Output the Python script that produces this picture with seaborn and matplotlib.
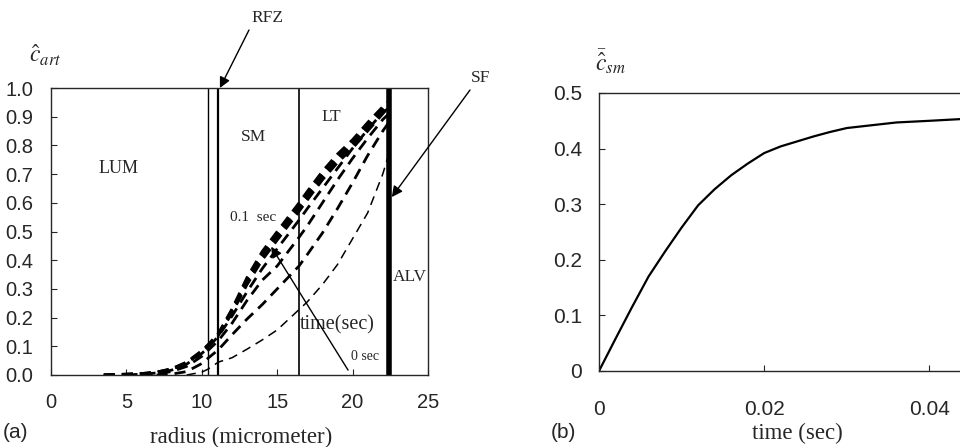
import numpy as np
import pandas as pd
import matplotlib
matplotlib.use("Agg")
import matplotlib.pyplot as plt
import seaborn as sns

# radial positions (micrometer) where the profiles were read
radius = [3.5, 5, 6, 7, 8, 9, 10, 10.4, 11.1, 12, 13, 14, 15, 16.45, 17, 18, 19, 20, 21, 22, 22.4]
nan = np.nan

# concentration profiles from 0 sec (first) towards 0.1 sec (last)
prof_0 = [nan, nan, nan, nan, nan, 0.0, 0.01, 0.02, 0.045, 0.06, 0.09, 0.122, 0.157, 0.228, 0.255, 0.315, 0.385, 0.475, 0.565, 0.70, 0.77]
prof_1 = [nan, nan, nan, 0.0, 0.003, 0.012, 0.04, 0.058, 0.088, 0.14, 0.195, 0.245, 0.30, 0.38, 0.42, 0.495, 0.58, 0.67, 0.765, 0.85, 0.88]
prof_2 = [nan, nan, 0.0, 0.004, 0.012, 0.03, 0.065, 0.085, 0.12, 0.18, 0.26, 0.33, 0.38, 0.48, 0.52, 0.60, 0.68, 0.755, 0.825, 0.89, 0.91]
prof_3 = [nan, 0.0, 0.003, 0.007, 0.017, 0.038, 0.075, 0.095, 0.135, 0.205, 0.29, 0.37, 0.44, 0.54, 0.58, 0.65, 0.72, 0.79, 0.855, 0.915, 0.93]
prof_4 = [0.0, 0.002, 0.004, 0.008, 0.019, 0.041, 0.079, 0.098, 0.138, 0.215, 0.315, 0.40, 0.47, 0.57, 0.61, 0.68, 0.74, 0.79, 0.85, 0.91, 0.935]
prof_5 = [0.0, 0.002, 0.004, 0.009, 0.02, 0.043, 0.081, 0.101, 0.141, 0.221, 0.325, 0.41, 0.48, 0.58, 0.62, 0.69, 0.75, 0.80, 0.86, 0.92, 0.943]
prof_6 = [0.0, 0.003, 0.005, 0.01, 0.021, 0.044, 0.083, 0.103, 0.143, 0.226, 0.333, 0.42, 0.49, 0.59, 0.63, 0.70, 0.76, 0.81, 0.87, 0.928, 0.95]
prof_7 = [0.0, 0.003, 0.005, 0.01, 0.022, 0.045, 0.085, 0.105, 0.145, 0.23, 0.34, 0.43, 0.50, 0.60, 0.64, 0.71, 0.77, 0.82, 0.88, 0.935, 0.955]
profiles = [prof_0, prof_1, prof_2, prof_3, prof_4, prof_5, prof_6, prof_7]

# layer boundaries (micrometer)
boundaries = [10.4, 11.1, 16.45, 22.4]
boundary_widths = [1.0, 1.6, 1.2, 4.0]

# mean smooth muscle concentration vs time
time_s = [0, 0.002, 0.004, 0.006, 0.008, 0.010, 0.012, 0.014, 0.016, 0.018, 0.020,
          0.022, 0.024, 0.026, 0.028, 0.030, 0.033, 0.036, 0.040, 0.0437]
c_sm = [0, 0.058, 0.115, 0.170, 0.215, 0.258, 0.298, 0.327, 0.352, 0.373, 0.392,
        0.404, 0.413, 0.422, 0.430, 0.437, 0.442, 0.447, 0.450, 0.453]

sns.set_style("ticks", {"xtick.direction": "in", "ytick.direction": "in"})
plt.rcParams["font.family"] = ["Liberation Sans", "DejaVu Sans"]
plt.rcParams["mathtext.fontset"] = "stix"
serif = ["Liberation Serif", "DejaVu Serif"]

fig = plt.figure(figsize=(9.6, 4.47), dpi=100)
W, H = 960, 447
ax1 = fig.add_axes([51 / W, (H - 375) / H, 377 / W, 287 / H])
ax2 = fig.add_axes([599 / W, (H - 371) / H, 361 / W, 278 / H])

# ---- panel (a)
for i, prof in enumerate(profiles):
    df = pd.DataFrame({"r": radius, "c": prof}).dropna()
    if i == 0:
        sns.lineplot(data=df, x="r", y="c", ax=ax1, color="black", lw=1.1, estimator=None)
        ax1.lines[-1].set_dashes([6, 4])
    else:
        sns.lineplot(data=df, x="r", y="c", ax=ax1, color="black", lw=2.0, estimator=None)
        ax1.lines[-1].set_dashes([4, 2.5])

for b, w in zip(boundaries, boundary_widths):
    ax1.axvline(b, color="black", lw=w)

ax1.set_xlim(0, 25)
ax1.set_ylim(0, 1.0)
ax1.set_xticks([0, 5, 10, 15, 20, 25])
ax1.set_yticks(np.arange(0, 1.01, 0.1))
ax1.set_yticklabels([f"{v:.1f}" for v in np.arange(0, 1.01, 0.1)])
ax1.tick_params(labelsize=14.5, length=4, width=0.8, pad=13)
ax1.set_xlabel("")
ax1.set_ylabel("")
for s in ax1.spines.values():
    s.set_linewidth(1.0)

ax1.text(4.5, 0.72, "LUM", family=serif, fontsize=13, ha="center", va="center")
ax1.text(13.4, 0.83, "SM", family=serif, fontsize=12.5, ha="center", va="center")
ax1.text(18.6, 0.90, "LT", family=serif, fontsize=12.5, ha="center", va="center")
ax1.text(23.8, 0.34, "ALV", family=serif, fontsize=12.5, ha="center", va="center")
ax1.text(13.4, 0.55, "0.1  sec", family=serif, fontsize=11, ha="center", va="center")
ax1.text(19.0, 0.174, "time(sec)", family=serif, fontsize=14.5, ha="center", va="center")
ax1.text(20.8, 0.063, "0 sec", family=serif, fontsize=10, ha="center", va="center")

arrow = dict(arrowstyle="-|>", color="black", lw=1.0, mutation_scale=16, shrinkA=0, shrinkB=0)
ax1.annotate("", xy=(14.6, 0.447), xytext=(19.7, 0.017), arrowprops=arrow)
ax1.annotate("", xy=(11.2, 1.0), xytext=(249, H - 30), textcoords="figure pixels",
             arrowprops=arrow, annotation_clip=False)
ax1.annotate("", xy=(22.6, 0.62), xytext=(470, H - 90), textcoords="figure pixels",
             arrowprops=arrow, annotation_clip=False)
fig.text(267 / W, (H - 18) / H, "RFZ", family=serif, fontsize=12.5, ha="center", va="center")
fig.text(481 / W, (H - 78) / H, "SF", family=serif, fontsize=12.5, ha="center", va="center")

fig.text(45 / W, (H - 55) / H, r"$\hat{c}_{art}$", fontsize=17, ha="center", va="center")
fig.text(241 / W, (H - 437) / H, "radius (micrometer)", family=serif, fontsize=16.5, ha="center", va="center")
fig.text(15 / W, (H - 432) / H, "(a)", fontsize=15, ha="center", va="center")

# ---- panel (b)
sns.lineplot(x=time_s, y=c_sm, ax=ax2, color="black", lw=1.6, estimator=None)
ax2.set_xlim(0, 0.0437)
ax2.set_ylim(0, 0.5)
ax2.set_xticks([0, 0.02, 0.04])
ax2.set_xticklabels(["0", "0.02", "0.04"])
ax2.set_yticks([0, 0.1, 0.2, 0.3, 0.4, 0.5])
ax2.set_yticklabels(["0", "0.1", "0.2", "0.3", "0.4", "0.5"])
ax2.tick_params(axis="y", labelsize=15, length=4, width=0.8, pad=12)
ax2.tick_params(axis="x", labelsize=15, length=4, width=0.8, pad=21)
ax2.spines["right"].set_visible(False)
for s in ["left", "top", "bottom"]:
    ax2.spines[s].set_linewidth(1.0)

fig.text(610 / W, (H - 62) / H, r"$\bar{\hat{c}}_{sm}$", fontsize=17, ha="center", va="center")
fig.text(797 / W, (H - 433) / H, "time (sec)", family=serif, fontsize=16.5, ha="center", va="center")
fig.text(563 / W, (H - 432) / H, "(b)", fontsize=15, ha="center", va="center")

fig.savefig("out.png", dpi=100)
